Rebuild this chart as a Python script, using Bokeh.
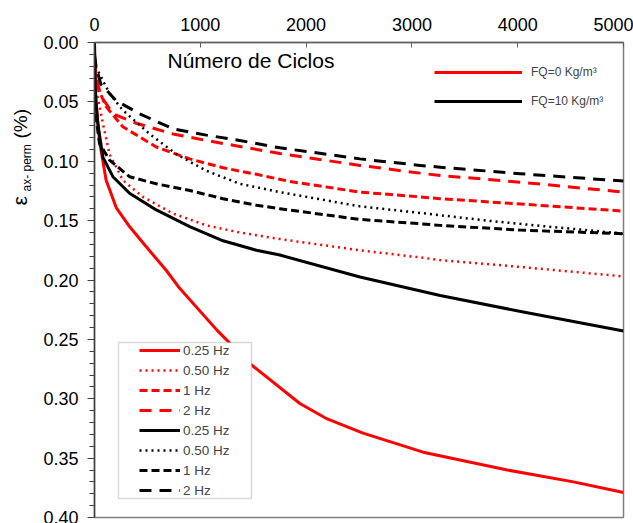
import math
from bokeh.plotting import figure
from bokeh.layouts import row
from bokeh.models import (Range1d, Legend, LegendItem, Label, BoxAnnotation,
                          FixedTicker, NumeralTickFormatter)
from bokeh.embed import file_html
from bokeh.resources import INLINE

# ---------------- data ----------------
x_ticks = [0, 1000, 2000, 3000, 4000, 5000]
y_ticks = [0.00, 0.05, 0.10, 0.15, 0.20, 0.25, 0.30, 0.35, 0.40]
y_minor = [i / 100 for i in range(41)]

# FQ = 0 kg/m3 (red)
r025_n = [0, 5, 15, 47, 110, 205, 331, 489, 679, 805, 1155, 1477, 1941, 2200, 2538, 3106, 3902, 4527, 5000]
r025_s = [0.0, 0.030, 0.050, 0.083, 0.116, 0.139, 0.155, 0.172, 0.192, 0.207, 0.242, 0.271, 0.304, 0.317, 0.329, 0.345, 0.360, 0.370, 0.379]

r050_n = [0, 16, 79, 142, 268, 457, 742, 1057, 1373, 1752, 2509, 3078, 3267, 4025, 5000]
r050_s = [0.020, 0.040, 0.068, 0.094, 0.116, 0.130, 0.144, 0.154, 0.160, 0.1655, 0.175, 0.181, 0.1832, 0.189, 0.197]

r1_n = [0, 16, 110, 268, 584, 900, 1215, 1531, 1847, 2509, 3078, 3267, 4025, 5000]
r1_s = [0.015, 0.035, 0.054, 0.071, 0.088, 0.098, 0.1055, 0.111, 0.117, 0.126, 0.130, 0.1315, 0.136, 0.142]

r2_n = [0, 16, 60, 174, 395, 742, 1057, 1373, 1752, 2509, 3078, 3267, 4025, 5000]
r2_s = [0.015, 0.029, 0.045, 0.060, 0.068, 0.077, 0.0825, 0.0875, 0.0935, 0.1035, 0.110, 0.112, 0.1176, 0.126]

# FQ = 10 kg/m3 (black)
k025_n = [0, 5, 15, 31, 79, 174, 331, 584, 900, 1215, 1531, 1752, 2509, 3267, 4053, 5000]
k025_s = [0.0, 0.035, 0.052, 0.068, 0.0965, 0.113, 0.127, 0.141, 0.155, 0.167, 0.175, 0.179, 0.1975, 0.213, 0.227, 0.243]

k050_n = [0, 16, 142, 268, 521, 773, 1057, 1373, 1752, 2509, 3078, 3709, 4340, 4656, 5000]
k050_s = [0.010, 0.021, 0.043, 0.057, 0.077, 0.094, 0.108, 0.119, 0.126, 0.138, 0.1435, 0.150, 0.1555, 0.158, 0.161]

k1_n = [0, 10, 47, 142, 331, 584, 900, 1215, 1531, 1752, 2509, 3078, 3267, 4025, 5000]
k1_s = [0.020, 0.060, 0.085, 0.099, 0.113, 0.119, 0.1246, 0.1316, 0.137, 0.140, 0.149, 0.1526, 0.154, 0.158, 0.161]

k2_n = [0, 16, 60, 205, 426, 742, 1057, 1373, 1752, 2509, 3078, 3267, 4025, 5000]
k2_s = [0.010, 0.021, 0.035, 0.049, 0.060, 0.0727, 0.078, 0.0825, 0.0887, 0.098, 0.1035, 0.105, 0.1105, 0.1167]

labels_freq = ["0.25 Hz", "0.50 Hz", "1 Hz", "2 Hz"]
labels_fq = ["FQ=0 Kg/m³", "FQ=10 Kg/m³"]
title_text = "Número de Ciclos"
ylabel_main = "ε"
ylabel_sub = "ax- perm"
ylabel_unit = "(%)"

FONT = "Liberation Sans"

# ---------------- main plot ----------------
p = figure(width=593, height=523, output_backend="svg", toolbar_location=None,
           x_range=Range1d(0, 5000), y_range=Range1d(0.40, 0.0),
           x_axis_location="above",
           min_border_left=54, min_border_right=10, min_border_top=42, min_border_bottom=6)
p.grid.visible = False
p.outline_line_color = "#7f7f7f"
p.outline_line_width = 1.5
p.background_fill_color = "white"
p.border_fill_color = "white"

xa = p.xaxis[0]
xa.ticker = FixedTicker(ticks=x_ticks, minor_ticks=[])
xa.major_tick_in = 5
xa.major_tick_out = 0
xa.minor_tick_line_color = None
xa.axis_line_color = "#606060"
xa.axis_line_width = 1.5
xa.major_tick_line_color = "#606060"
xa.major_label_text_font = FONT
xa.major_label_text_font_size = "18px"
xa.major_label_text_color = "black"
xa.major_label_standoff = 12

ya = p.yaxis[0]
ya.ticker = FixedTicker(ticks=y_ticks, minor_ticks=y_minor)
ya.formatter = NumeralTickFormatter(format="0.00")
ya.major_tick_in = 0
ya.major_tick_out = 7
ya.minor_tick_in = 0
ya.minor_tick_out = 5
ya.axis_line_color = "#404040"
ya.axis_line_width = 1.5
ya.major_tick_line_color = "#404040"
ya.minor_tick_line_color = "#404040"
ya.major_label_text_font = FONT
ya.major_label_text_font_size = "18px"
ya.major_label_text_color = "black"
ya.major_label_standoff = 9

RED = "#ff0000"
BLK = "#000000"
styles = [
    (r025_n, r025_s, RED, "solid", 3),
    (r050_n, r050_s, RED, "2 4", 2.5),
    (r1_n, r1_s, RED, "8 4", 3),
    (r2_n, r2_s, RED, "12 8", 3),
    (k025_n, k025_s, BLK, "solid", 3),
    (k050_n, k050_s, BLK, "2 4", 2.5),
    (k1_n, k1_s, BLK, "8 4", 3),
    (k2_n, k2_s, BLK, "12 8", 3),
]
rends = []
for n, s, c, d, w in styles:
    r = p.line(n, s, line_color=c, line_dash=d, line_width=w, line_join="round")
    rends.append(r)

p.add_layout(Label(x=73, y=457, x_units="screen", y_units="screen", text=title_text,
                   text_baseline="middle",
                   text_font=FONT, text_font_size="21px", text_color="black"))

# bottom-left legend box
p.add_layout(BoxAnnotation(left=24, right=157, bottom=19, top=175,
                           left_units="screen", right_units="screen",
                           bottom_units="screen", top_units="screen",
                           fill_color="white", fill_alpha=1.0,
                           line_color="#808080", line_width=1.5))

items2 = [LegendItem(label=labels_freq[i % 4], renderers=[rends[i]]) for i in range(8)]
leg2 = Legend(items=items2, location=(45, 17), padding=0, margin=0, spacing=0,
              glyph_width=41, glyph_height=20, label_height=20, label_standoff=3,
              label_text_font=FONT, label_text_font_size="13.5px",
              border_line_color=None, background_fill_alpha=0)
p.add_layout(leg2)

items1 = [LegendItem(label=labels_fq[0], renderers=[rends[0]]),
          LegendItem(label=labels_fq[1], renderers=[rends[4]])]
leg1 = Legend(items=items1, location=(340, 406), padding=0, margin=0, spacing=9,
              glyph_width=88, glyph_height=20, label_height=20, label_standoff=9,
              label_text_font=FONT, label_text_font_size="12px",
              border_line_color=None, background_fill_alpha=0)
p.add_layout(leg1)

# ---------------- y-axis title strip ----------------
q = figure(width=40, height=523, output_backend="svg", toolbar_location=None,
           x_axis_location=None, y_axis_location=None,
           min_border_left=0, min_border_right=0, min_border_top=0, min_border_bottom=0)
q.grid.visible = False
q.outline_line_color = None
q.border_fill_color = "white"
q.background_fill_color = "white"
q.add_layout(Label(x=18.5, y=312, x_units="screen", y_units="screen", text=ylabel_main,
                   angle=math.pi / 2, text_baseline="middle",
                   text_font=FONT, text_font_size="21px", text_color="black"))
q.add_layout(Label(x=26.5, y=326, x_units="screen", y_units="screen", text=ylabel_sub,
                   angle=math.pi / 2, text_baseline="middle",
                   text_font=FONT, text_font_size="12px", text_color="black"))
q.add_layout(Label(x=19.5, y=379, x_units="screen", y_units="screen", text=ylabel_unit,
                   angle=math.pi / 2, text_baseline="middle",
                   text_font=FONT, text_font_size="19px", text_color="black"))

layout = row(q, p, spacing=0)
open("out.html", "w").write(file_html(layout, INLINE))
